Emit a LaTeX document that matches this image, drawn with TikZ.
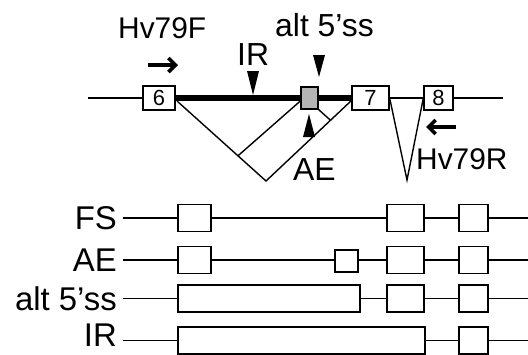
\documentclass[tikz,border=0pt]{standalone}
\usepackage{fontspec}
\setmainfont{Liberation Sans}
\usetikzlibrary{arrows.meta,calc}
\definecolor{greybox}{HTML}{B4B4B4}
\begin{document}
\begin{tikzpicture}[x=1bp,y=-1bp,
  thin line/.style={line width=1.4bp},
  exon/.style={draw,line width=1.3bp,fill=white,minimum width=#1,minimum height=24bp,inner sep=0pt,font=\fontsize{22}{24}\selectfont},
  rowbox/.style={draw,line width=1.8bp,fill=white,minimum width=#1,minimum height=27bp,inner sep=0pt},
  bigtext/.style={font=\fontsize{32}{36}\selectfont,inner sep=0pt},
  rowtext/.style={font=\fontsize{33}{36}\selectfont,inner sep=0pt},
  primertext/.style={font=\fontsize{30}{34}\selectfont,inner sep=0pt},
  primer/.style={line width=3.6bp,-{Straight Barb[length=7bp,width=14bp]}},
  rowline/.style={line width=1.6bp}]
\useasboundingbox (0,0) rectangle (528,354);

% ---------- top gene model ----------
\coordinate (Lstart) at (88,98);
\coordinate (Lend) at (503,98);
\node[exon=32bp] (e6) at (159,98) {6};
\node[exon=37bp] (e7) at (370.5,98) {7};
\node[exon=29bp] (e8) at (438.5,98) {8};
\draw[thin line] (Lstart) -- (e6);
\draw[thin line] (e7) -- (e8);
\draw[thin line] (e8) -- (Lend);
\draw[line width=6.5bp] (e6.east) -- (e7.west);
\node[draw,line width=1.3bp,fill=greybox,minimum width=17bp,minimum height=22bp,inner sep=0pt] (gb) at (309.5,98) {};

% splicing lines
\coordinate (a6) at (177,101);
\coordinate (a7) at (352,100);
\coordinate (v1) at (266,181);
\draw[thin line] (a6) -- (v1) -- (a7);
\draw[thin line] ($(v1)!0.315!(a6)$) -- (gb.west |- a6);
\draw[thin line] (gb.south east) -- ($(v1)!0.75!(a7)$);
\coordinate (v2) at (407,180);
\draw[thin line] (e7.east) -- (v2) -- (e8.west);

% markers
\fill (247,71) -- (259,71) -- (253,95) -- cycle;
\fill (313,55) -- (325,55) -- (319,77) -- cycle;
\fill (303,137) -- (315,137) -- (309,114) -- cycle;

% labels
\node[bigtext,anchor=base west] (tIR) at (237,65) {IR};
\node[bigtext,anchor=base west] (tAlt) at (275,36) {alt 5’ss};
\node[bigtext,anchor=base west] (tAE) at (293,180) {AE};
\node[primertext,anchor=base west] (tF) at (118,38) {Hv79F};
\node[primertext,anchor=base west] (tR) at (416,169) {Hv79R};
\coordinate (pf1) at (148,65);
\coordinate (pf2) at (178,65);
\draw[primer] (pf1) -- (pf2);
\coordinate (pr1) at (456,127);
\coordinate (pr2) at (426,127);
\draw[primer] (pr1) -- (pr2);

% ---------- transcripts ----------
% FS
\node[rowtext,anchor=base east] (lFS) at (117,229.5) {FS};
\coordinate (s1) at (123,218);
\coordinate (t1) at (530,218);
\node[rowbox=33bp] (fs6) at (194.5,218) {};
\node[rowbox=37bp] (fs7) at (405.5,218) {};
\node[rowbox=29bp] (fs8) at (473.5,218) {};
\draw[rowline] (s1) -- (fs6) -- (fs7) -- (fs8) -- (t1);
% AE
\node[rowtext,anchor=base east] (lAE) at (117,271.5) {AE};
\coordinate (s2) at (123,260);
\coordinate (t2) at (530,260);
\node[rowbox=33bp] (ae6) at (194.5,260) {};
\node[rowbox=23bp,minimum height=22bp] (aeX) at (346.5,261) {};
\node[rowbox=37bp] (ae7) at (405.5,260) {};
\node[rowbox=29bp] (ae8) at (473.5,260) {};
\draw[rowline] (s2) -- (ae6) -- (aeX.west |- s2);
\draw[rowline] (aeX.east |- s2) -- (ae7) -- (ae8) -- (t2);
% alt 5'ss
\node[rowtext,anchor=base east] (lAlt) at (117,310) {alt 5’ss};
\coordinate (s3) at (123,298.5);
\coordinate (t3) at (530,298.5);
\node[rowbox=182bp] (al6) at (269,298.5) {};
\node[rowbox=37bp] (al7) at (405.5,298.5) {};
\node[rowbox=29bp] (al8) at (473.5,298.5) {};
\draw[rowline] (s3) -- (al6) -- (al7) -- (al8) -- (t3);
% IR
\node[rowtext,anchor=base east] (lIR) at (117,346) {IR};
\coordinate (s4) at (123,340.5);
\coordinate (t4) at (530,340.5);
\node[rowbox=247bp] (ir6) at (301.5,340.5) {};
\node[rowbox=29bp] (ir8) at (473.5,340.5) {};
\draw[rowline] (s4) -- (ir6) -- (ir8) -- (t4);
\end{tikzpicture}
\end{document}
